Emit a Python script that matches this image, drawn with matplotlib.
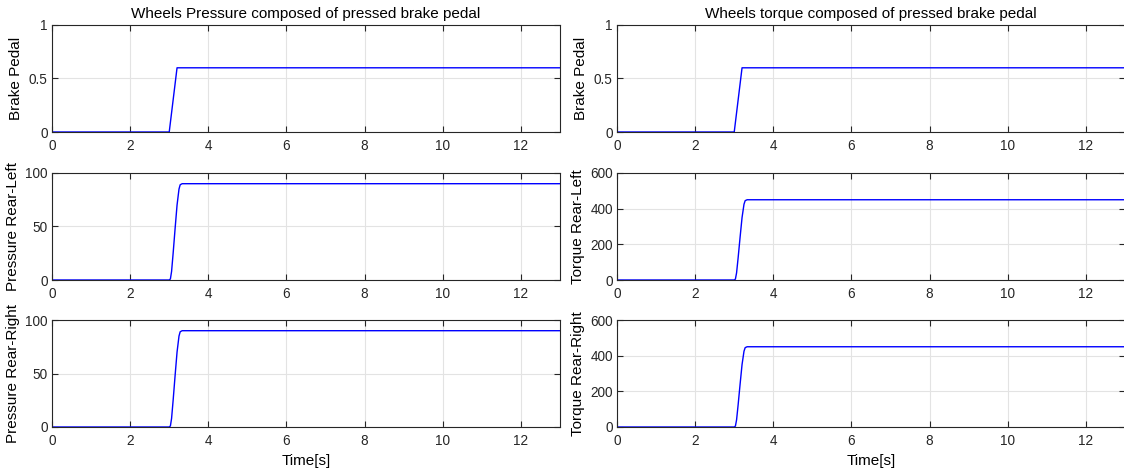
import matplotlib.pyplot as plt

# time bases (s)
t_pedal = [0.0, 3.0, 3.2, 13.0]
t_rise = [0.0, 3.0, 3.03, 3.06, 3.1, 3.15, 3.2, 3.25, 3.28, 3.33, 13.0]

# series values
brake_pedal = [0.0, 0.0, 0.6, 0.6]
pressure_rl = [0, 0, 1, 8, 25, 48, 70, 85, 89, 90, 90]
pressure_rr = [0, 0, 1, 8, 25, 48, 70, 85, 89, 90, 90]
torque_rl = [0, 0, 5, 40, 125, 240, 350, 425, 445, 450, 450]
torque_rr = [0, 0, 5, 40, 125, 240, 350, 425, 445, 450, 450]

x_ticks = [0, 2, 4, 6, 8, 10, 12]
titles = ["Wheels Pressure composed of pressed brake pedal",
          "Wheels torque composed of pressed brake pedal"]

plt.rcParams['font.family'] = ['Liberation Sans', 'DejaVu Sans']
axis_col = '#262626'

fig = plt.figure(figsize=(11.24, 4.70), dpi=100)

W, H = 1124.0, 470.0
col_left = [52, 617]
col_width = 508
row_top = [25, 173, 320]
row_height = 107

panels = [
    # (row, col, t, y, ylabel, yticks, ylim)
    (0, 0, t_pedal, brake_pedal, "Brake Pedal", [0, 0.5, 1], (0, 1)),
    (1, 0, t_rise, pressure_rl, "Pressure Rear-Left", [0, 50, 100], (0, 100)),
    (2, 0, t_rise, pressure_rr, "Pressure Rear-Right", [0, 50, 100], (0, 100)),
    (0, 1, t_pedal, brake_pedal, "Brake Pedal", [0, 0.5, 1], (0, 1)),
    (1, 1, t_rise, torque_rl, "Torque Rear-Left", [0, 200, 400, 600], (0, 600)),
    (2, 1, t_rise, torque_rr, "Torque Rear-Right", [0, 200, 400, 600], (0, 600)),
]

for row, col, t, y, ylabel, yticks, ylim in panels:
    rect = [col_left[col] / W, 1 - (row_top[row] + row_height) / H,
            col_width / W, row_height / H]
    ax = fig.add_axes(rect)
    ax.plot(t, y, color='#0000ff', lw=1.0)
    ax.set_xlim(0, 13)
    ax.set_ylim(*ylim)
    ax.set_xticks(x_ticks)
    ax.set_yticks(yticks)
    ax.set_yticklabels([f"{v:g}" for v in yticks])
    ax.grid(True, color='#e3e3e3', lw=0.8)
    ax.set_axisbelow(True)
    ax.tick_params(direction='in', length=4, width=0.8, top=True, right=True,
                   labelsize=9.8, colors=axis_col)
    ax.tick_params(axis='x', pad=5)
    ax.tick_params(axis='y', pad=3)
    for s in ax.spines.values():
        s.set_color(axis_col)
        s.set_linewidth(0.8)
    ax.set_ylabel(ylabel, fontsize=11, color='black', labelpad=4)
    if row == 0:
        ax.set_title(titles[col], fontsize=11, pad=5)
    if row == 2:
        ax.set_xlabel("Time[s]", fontsize=11, labelpad=4)

fig.savefig('out.png', dpi=100, facecolor='white')
